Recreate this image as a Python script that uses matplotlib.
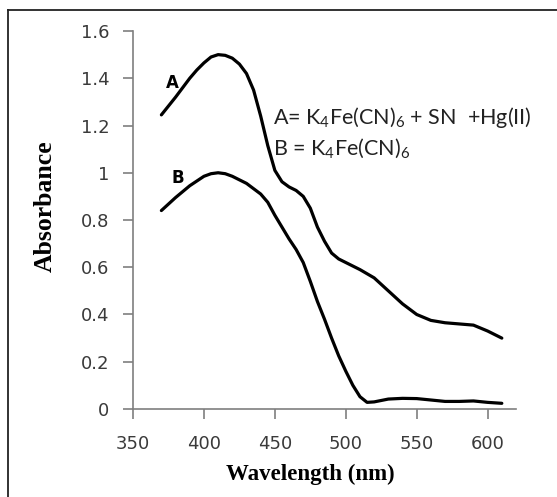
import matplotlib.pyplot as plt
from matplotlib.lines import Line2D

# Absorption spectra
wl_a = [370, 380, 390, 395, 400, 405, 410, 415, 420, 425, 430, 435, 440, 445, 450,
        455, 460, 465, 470, 475, 480, 485, 490, 495, 500, 510, 520, 530, 540, 550,
        560, 570, 580, 590, 600, 610]
abs_a = [1.245, 1.32, 1.40, 1.435, 1.465, 1.49, 1.50, 1.497, 1.485, 1.46, 1.42, 1.35,
         1.24, 1.115, 1.01, 0.962, 0.94, 0.925, 0.90, 0.85, 0.77, 0.71, 0.66, 0.635,
         0.62, 0.59, 0.555, 0.50, 0.445, 0.40, 0.375, 0.365, 0.36, 0.355, 0.33, 0.30]

wl_b = [370, 380, 390, 400, 405, 410, 415, 420, 430, 440, 445, 450, 455, 460, 465,
        470, 475, 480, 485, 490, 495, 500, 505, 510, 515, 520, 530, 540, 550, 560,
        570, 580, 590, 600, 610]
abs_b = [0.84, 0.895, 0.945, 0.985, 0.996, 1.0, 0.996, 0.985, 0.955, 0.91, 0.875,
         0.82, 0.77, 0.72, 0.675, 0.62, 0.54, 0.455, 0.38, 0.30, 0.225, 0.16, 0.10,
         0.052, 0.028, 0.03, 0.042, 0.045, 0.044, 0.038, 0.032, 0.032, 0.034, 0.028,
         0.024]

xticks = [350, 400, 450, 500, 550, 600]
yticks = [0, 0.2, 0.4, 0.6, 0.8, 1.0, 1.2, 1.4, 1.6]
yticklabels = ['0', '0.2', '0.4', '0.6', '0.8', '1', '1.2', '1.4', '1.6']

plt.rcParams['mathtext.fontset'] = 'custom'
plt.rcParams['mathtext.rm'] = 'Lato'
plt.rcParams['mathtext.it'] = 'Lato'

fig = plt.figure(figsize=(5.57, 4.97), dpi=100)
ax = fig.add_axes([0.2388, 0.1771, 0.6876, 0.7605])

ax.plot(wl_a, abs_a, color='black', lw=2.3, solid_capstyle='round', solid_joinstyle='round')
ax.plot(wl_b, abs_b, color='black', lw=2.3, solid_capstyle='round', solid_joinstyle='round')

ax.set_xlim(350, 620)
ax.set_ylim(0, 1.6)
ax.set_xticks(xticks)
ax.set_yticks(yticks)
ax.set_yticklabels(yticklabels)

for side in ['top', 'right']:
    ax.spines[side].set_visible(False)
for side in ['left', 'bottom']:
    ax.spines[side].set_color('#7f7f7f')
    ax.spines[side].set_linewidth(1.2)
ax.tick_params(direction='out', length=7, width=1.2, color='#7f7f7f',
               labelsize=13, labelcolor='#3a3a3a', pad=10)
ax.tick_params(axis='x', pad=12)

ax.set_xlabel('Wavelength (nm)', family='Liberation Serif', fontweight='bold',
              fontsize=16.5)
ax.set_ylabel('Absorbance', family='Liberation Serif', fontweight='bold',
              fontsize=18.5)
ax.xaxis.set_label_coords(0.462, -0.146)
ax.yaxis.set_label_coords(-0.198, 0.536)

# curve labels
ax.text(373, 1.36, 'A', fontsize=12, fontweight='bold', family='DejaVu Sans')
ax.text(377, 0.957, 'B', fontsize=12, fontweight='bold', family='DejaVu Sans')

# legend text
ax.text(449, 1.206, 'A= K$_4$Fe(CN)$_6$ + SN  +Hg(II)', family='Lato', fontsize=15.5,
        color='#222222')
ax.text(449, 1.075, 'B = K$_4$Fe(CN)$_6$', family='Lato', fontsize=15.5,
        color='#222222')

# outer frame (left and top edges)
fig.add_artist(Line2D([8 / 557, 8 / 557], [0, 1 - 10 / 497], transform=fig.transFigure,
                      color='#222222', lw=1.3))
fig.add_artist(Line2D([8 / 557, 1], [1 - 10 / 497, 1 - 10 / 497], transform=fig.transFigure,
                      color='#222222', lw=1.3))

plt.savefig('out.png', dpi=100)
